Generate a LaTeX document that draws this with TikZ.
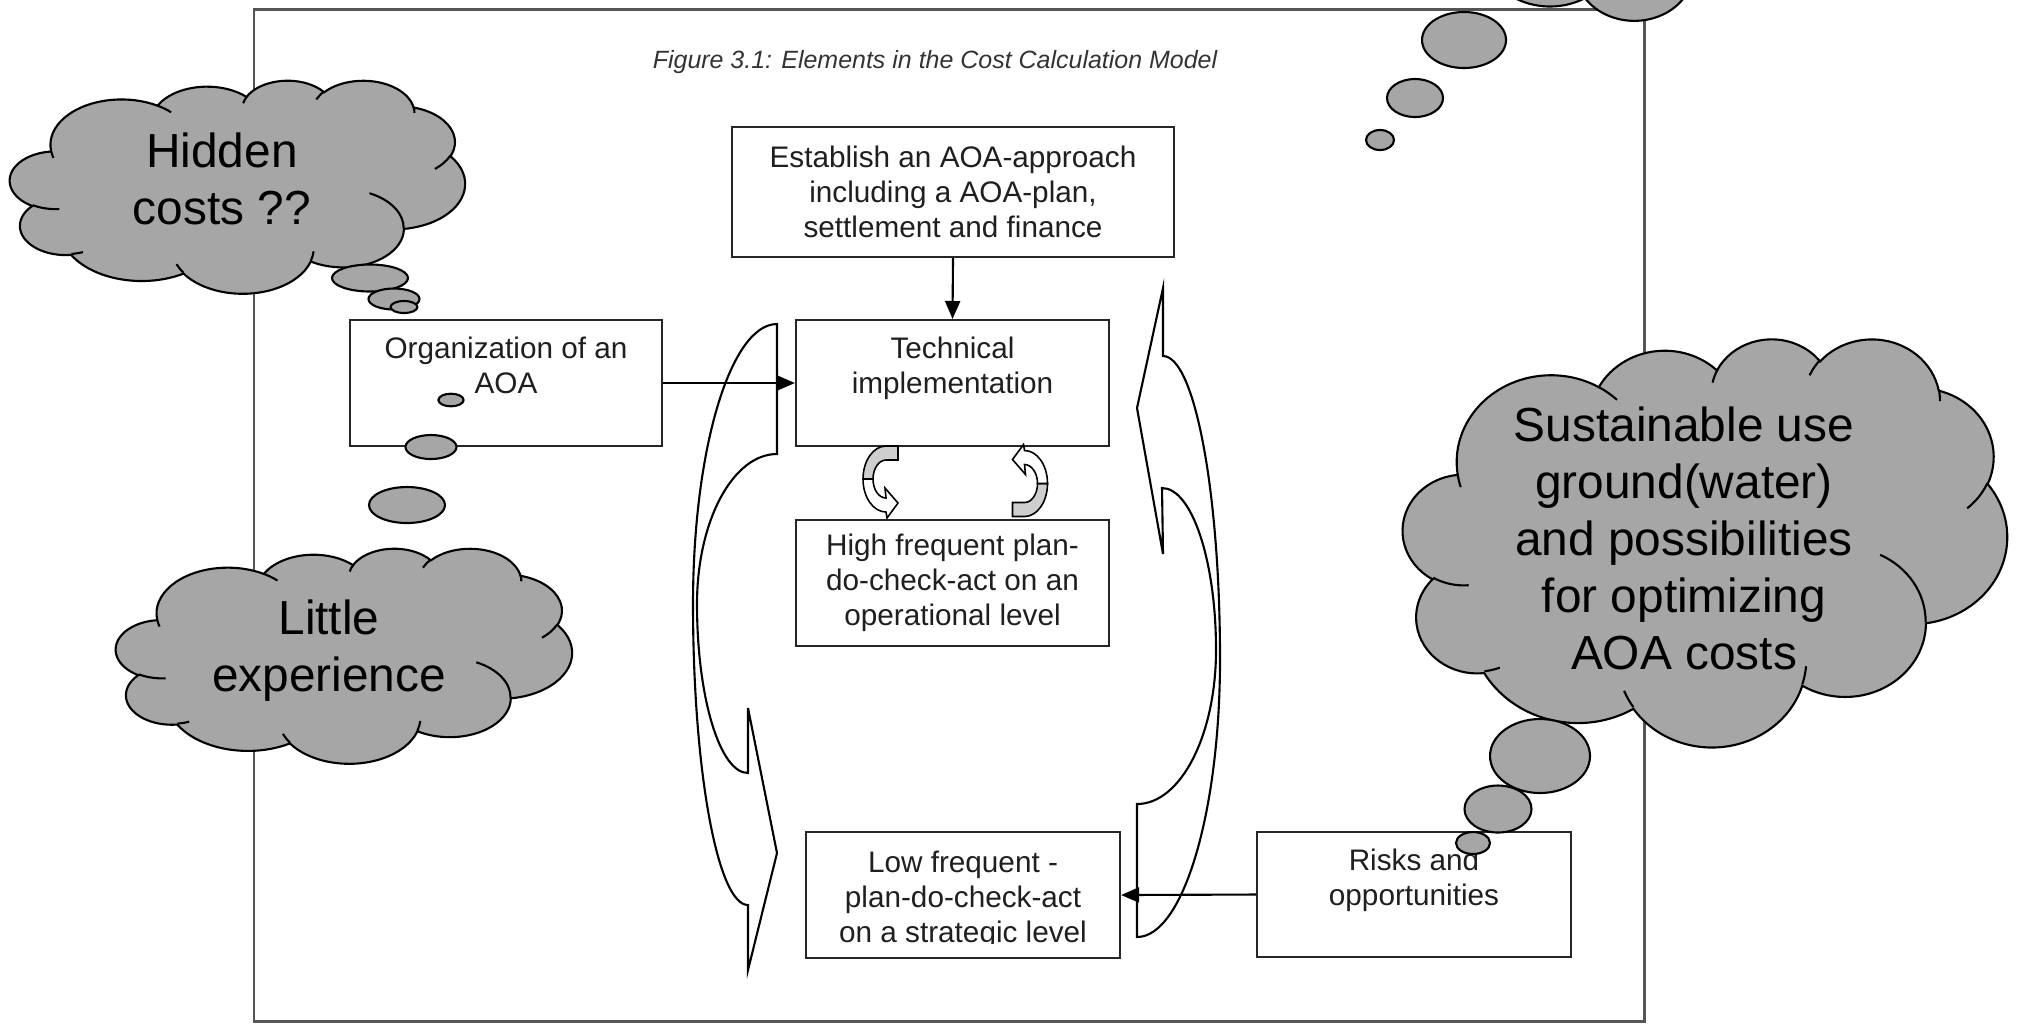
\documentclass[tikz,border=0pt]{standalone}
\usepackage{fontspec}
\setmainfont{Liberation Sans}
\usetikzlibrary{arrows.meta}

\definecolor{cloudgray}{RGB}{166,166,166}
\definecolor{ribbongray}{RGB}{206,206,206}
\definecolor{framegray}{RGB}{85,85,85}

% one elliptical puff of a cloud; the angles are visual angles on the
% ellipse and are turned into parametric ones before the arc is drawn
\newcommand\cloudarc[4]{%
  \pgfextra{%
    \pgfmathsetmacro\cloudta{atan2((#1)*sin(#3),(#2)*cos(#3))}%
    \pgfmathsetmacro\cloudtb{atan2((#1)*sin((#3)+(#4)),(#2)*cos((#3)+(#4)))}%
    \pgfmathsetmacro\cloudtb{\cloudtb<\cloudta ? \cloudtb+360 : \cloudtb}%
    \global\let\cloudA\cloudta
    \global\let\cloudB\cloudtb}%
  arc[x radius=#1, y radius=#2, start angle=\cloudA, end angle=\cloudB]}

% cloud outline in a 432 x 432 box
\newcommand\cloudoutline{(39.00,143.70)
  \cloudarc{67.53}{91.90}{-190.487}{123.781}
  \cloudarc{53.33}{72.67}{-144.102}{89.945}
  \cloudarc{43.65}{59.45}{-145.808}{99.723}
  \cloudarc{48.57}{65.95}{-130.986}{117.242}
  \cloudarc{53.33}{72.73}{-78.709}{109.027}
  \cloudarc{67.75}{92.20}{-46.267}{130.269}
  \cloudarc{57.85}{78.67}{0.625}{114.033}
  \cloudarc{67.52}{92.15}{22.452}{115.173}
  \cloudarc{77.20}{105.43}{66.243}{75.711}
  \cloudarc{43.60}{59.18}{-274.942}{146.736}
  \cloudarc{43.45}{59.45}{-246.829}{152.519}
  -- cycle}

% short creases where the puffs overlap
\newcommand\cloudcreases{
  (46.93,261.77) \cloudarc{43.45}{59.45}{86.742}{26.430}
  (69.28,348.99) \cloudarc{43.60}{59.18}{73.610}{11.447}
  (164.78,390.90) \cloudarc{67.52}{92.15}{137.624}{14.081}
  (288.27,347.51) \cloudarc{67.52}{92.15}{6.453}{15.998}
  (341.29,229.54) \cloudarc{57.85}{78.67}{-70.292}{70.917}
  (417.98,153.54) \cloudarc{53.33}{72.73}{30.318}{27.752}
  (383.24,54.26) \cloudarc{48.57}{65.95}{-13.744}{14.859}
  (290.78,39.52) \cloudarc{48.57}{65.95}{-149.181}{18.195}
  (221.41,47.20) \cloudarc{43.65}{59.45}{-163.494}{17.686}
  (140.00,51.92) \cloudarc{67.53}{91.90}{-66.707}{12.319}
  (41.27,157.89) \cloudarc{67.53}{91.90}{157.654}{11.858}}

% cloud with top left corner (#1,#2), width #3 and height #4
\newcommand\drawcloud[4]{%
  \begin{scope}[shift={(#1,#2)},xscale=#3/432,yscale=#4/432]
    \filldraw[cloudbody] \cloudoutline;
    \draw[cloudline] \cloudcreases;
  \end{scope}}

\tikzset{
  pics/turnarrow/.style={code={
    \filldraw[ribbonline, fill=ribbongray]
      (17.5,-36) -- (5.5,-36)
      arc[x radius=23, y radius=33, start angle=-90, end angle=-180]
      -- (-7.5,-3)
      arc[x radius=13, y radius=19, start angle=180, end angle=270]
      -- (17.5,-22) -- cycle;
    \filldraw[ribbonline, fill=white]
      (-17.5,-3)
      arc[x radius=23, y radius=33, start angle=180, end angle=90]
      -- (6.5,36) -- (17.5,21) -- (4.5,6) -- (5.5,16)
      arc[x radius=13, y radius=19, start angle=90, end angle=180]
      -- cycle;
  }}
}

\begin{document}
\begin{tikzpicture}[x=0.01cm, y=-0.01cm,
  outerframe/.style={draw=framegray, line width=0.85pt},
  box/.style={draw=black!85, line width=0.55pt, fill=white, inner sep=0pt,
    align=center, text=black!88, font=\fontsize{8.45}{9.95}\selectfont},
  boxtext/.style={inner sep=0pt, align=center, text=black!88,
    font=\fontsize{8.45}{9.95}\selectfont},
  conn/.style={draw=black, line width=0.6pt,
    -{Triangle[length=1.8mm, width=1.5mm]}},
  bigarrow/.style={draw=black, line width=0.6pt},
  ribbonline/.style={draw=black, line width=0.45pt},
  cloudbody/.style={draw=black, line width=0.6pt, fill=cloudgray},
  cloudline/.style={draw=black, line width=0.6pt},
  thought/.style={inner sep=0pt, align=center,
    font=\fontsize{13.6}{16.2}\selectfont},
  figcaption/.style={inner sep=0pt, text=black!80,
    font=\fontsize{7.1}{8.5}\selectfont\itshape},
]
\useasboundingbox (0,0) rectangle (2022,1023);
\clip (0,0) rectangle (2022,1023);

% page frame and caption
\draw[outerframe] (254,9) rectangle (1644,1021);
\node[figcaption] (caption) at (935,62)
  {Figure 3.1: Elements in the Cost Calculation Model};

% boxes
\node[box, minimum width=4.42cm, minimum height=1.30cm] (est) at (953,192)
  {Establish an AOA-approach\\including a AOA-plan,\\settlement and finance};
\node[box, minimum width=3.12cm, minimum height=1.26cm] (org) at (506,383)
  {Organization of an\\AOA\\\mbox{}};
\node[box, minimum width=3.13cm, minimum height=1.26cm] (tech) at (952.5,383)
  {Technical\\implementation\\\mbox{}};
\node[box, minimum width=3.13cm, minimum height=1.26cm] (high) at (952.5,583)
  {High frequent plan-\\do-check-act on an\\operational level};
\node[box, minimum width=3.14cm, minimum height=1.26cm] (low) at (963,895) {};
\begin{scope}
  % the last line is cut off at its baseline
  \clip (806,832) rectangle (1120,943);
  \node[boxtext] (lowtext) at (963,900)
    {Low frequent -\\plan-do-check-act\\on a strategic level};
\end{scope}
\node[box, minimum width=3.14cm, minimum height=1.25cm] (risk) at (1414,894.5)
  {Risks and\\opportunities\\\mbox{}};

% connectors
\draw[conn] (est.south) -- (tech.north);
\draw[conn] (org.east) -- (tech.west);
\draw[conn] (risk.west) -- (low.east);

% large curved arrows of the outer cycle
\draw[bigarrow] (777,324) -- (777,454)
  arc[x radius=80, y radius=150, start angle=-90, end angle=-180]
  arc[x radius=51, y radius=169, start angle=180, end angle=90]
  -- (748,708) -- (777,853) -- (748,970) -- (748,905)
  arc[x radius=55, y radius=301, start angle=90, end angle=180]
  arc[x radius=84, y radius=280, start angle=180, end angle=270]
  -- cycle;
\draw[bigarrow] (1163,288) -- (1163,356)
  arc[x radius=57, y radius=303, start angle=-90, end angle=0]
  arc[x radius=83, y radius=278, start angle=0, end angle=90]
  -- (1137,804)
  arc[x radius=79, y radius=154, start angle=90, end angle=0]
  arc[x radius=54, y radius=162, start angle=0, end angle=-90]
  -- (1163,554) -- (1137,408) -- cycle;

% small turning arrows of the inner cycle
\pic (turnL) at (880.5,482) {turnarrow};
\pic[rotate=180] (turnR) at (1030,480.5) {turnarrow};

% cloud at the top right edge
\drawcloud{1440}{-220}{380}{240}
\filldraw[cloudbody] (1464,40) ellipse[x radius=42, y radius=28];
\filldraw[cloudbody] (1415,98) ellipse[x radius=28, y radius=19];
\filldraw[cloudbody] (1380,140) ellipse[x radius=14, y radius=10];

% "Hidden costs" cloud
\drawcloud{10}{80}{455}{213}
\filldraw[cloudbody] (370,278) ellipse[x radius=38, y radius=13.5];
\filldraw[cloudbody] (394,299) ellipse[x radius=25.5, y radius=10.5];
\filldraw[cloudbody] (404,307) ellipse[x radius=13.4, y radius=6];
\node[thought] (hidden) at (222,179) {Hidden\\costs ??};

% "Little experience" cloud
\filldraw[cloudbody] (451,400) ellipse[x radius=12.6, y radius=6.3];
\filldraw[cloudbody] (431,447) ellipse[x radius=25.5, y radius=12];
\filldraw[cloudbody] (407,505) ellipse[x radius=38, y radius=18];
\drawcloud{116}{548}{456}{215}
\node[thought] (little) at (329,651) {Little\\experience};

% "Sustainable use" cloud
\drawcloud{1403}{338}{604}{408}
\filldraw[cloudbody] (1540,756) ellipse[x radius=50, y radius=37];
\filldraw[cloudbody] (1498,809) ellipse[x radius=33.5, y radius=23.5];
\filldraw[cloudbody] (1473,843) ellipse[x radius=17, y radius=11];
\node[thought] (sustain) at (1684,538)
  {Sustainable use\\ground(water)\\and possibilities\\for optimizing\\AOA costs};
\end{tikzpicture}
\end{document}
